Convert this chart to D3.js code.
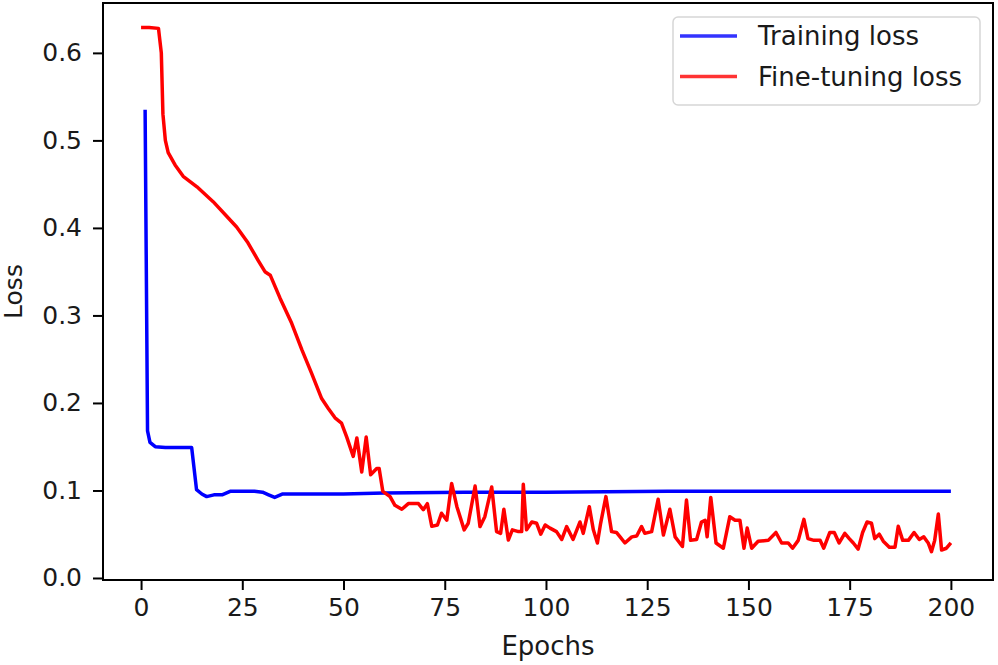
<!DOCTYPE html>
<html>
<head>
<meta charset="utf-8">
<script src="https://cdn.jsdelivr.net/npm/d3@7"></script>
<style>
  body { margin: 0; background: #fff; }
  svg { display: block; font-family: "DejaVu Sans", sans-serif; }
</style>
</head>
<body>
<svg id="chart" width="998" height="665"></svg>
<script>
// training loss (blue)
const trainEpochs = [1, 1.6, 2.2, 3.5, 6, 9, 12.5, 13.7, 15, 16.2, 18, 20, 22, 25, 28, 30, 31.5, 33, 35, 40, 50, 60, 80, 100, 130, 160, 200]
const trainLoss = [0.535, 0.168, 0.155, 0.150, 0.149, 0.149, 0.149, 0.101, 0.096, 0.093, 0.095, 0.095, 0.099, 0.099, 0.099, 0.098, 0.095, 0.092, 0.096, 0.096, 0.096, 0.097, 0.098, 0.098, 0.099, 0.099, 0.099]

// fine-tuning loss (red)
const tuneEpochs = [0, 2, 4.3, 5.0, 5.4, 6.0, 6.7, 8.4, 10.4, 13.8, 17.8, 21.2, 23.6, 26.4, 28.9, 30.6, 31.9, 34.3, 37.2, 39.7, 42.1, 44.6, 46.2, 47.9, 49.5, 50.8, 52.4,
  53.3, 54.5, 55.6, 56.7, 58.2, 58.8, 59.7, 61.5, 62.7, 64.4, 66, 68.5, 69.7, 70.7, 71.8, 73.2, 74.2, 75.5, 76.7, 78, 79.8, 80.8, 82.5, 83.7, 84.9, 86.6,
  87.8, 88.8, 89.6, 90.7, 91.7, 93.2, 94, 94.4, 95.2, 96.5, 97.7, 98.7, 99.8, 101, 102.6, 103.9, 105.1, 106.7, 108.4, 109.2, 110.7, 111.7, 112.7, 113.5,
  114.8, 116.2, 117.4, 118.3, 119.5, 121.2, 122.4, 123.6, 124.4, 126.1, 127.7, 129, 130.6, 131.9, 133.7, 134.7, 135.7, 137.2, 138.4, 139.3, 139.8, 140.7,
  142, 143.8, 145.4, 146.7, 147.9, 148.9, 149.7, 150.8, 152.4, 154.9, 156.8, 158.2, 159.8, 160.9, 162.3, 163.7, 164.7, 166.2, 167.7, 168.6, 170.1, 171.2,
  172.4, 173.8, 174.9, 175.9, 177.1, 178.2, 179.3, 180.4, 181.2, 182.3, 183.3, 184.8, 186.2, 187, 188.1, 189.5, 190.9, 192.2, 193.3, 194.4, 195.2, 196,
  196.9, 197.7, 198.9, 200]
const tuneLoss = [0.629, 0.629, 0.628, 0.60, 0.53, 0.50, 0.486, 0.472, 0.459, 0.447, 0.430, 0.413, 0.401, 0.383, 0.363, 0.350, 0.346, 0.320, 0.291, 0.261, 0.234, 0.205, 0.194, 0.183, 0.177, 0.161, 0.139,
  0.160, 0.121, 0.161, 0.118, 0.125, 0.125, 0.099, 0.093, 0.083, 0.0785, 0.085, 0.085, 0.078, 0.085, 0.059, 0.0606, 0.074, 0.066, 0.108, 0.0815, 0.055, 0.0625, 0.105, 0.0587, 0.070, 0.104,
  0.053, 0.051, 0.0785, 0.0434, 0.055, 0.053, 0.053, 0.107, 0.055, 0.064, 0.0625, 0.050, 0.0606, 0.057, 0.053, 0.044, 0.0587, 0.044, 0.064, 0.051, 0.0815, 0.055, 0.040, 0.0625,
  0.093, 0.053, 0.052, 0.047, 0.040, 0.047, 0.048, 0.0587, 0.051, 0.053, 0.090, 0.049, 0.0785, 0.047, 0.036, 0.089, 0.043, 0.044, 0.064, 0.066, 0.047, 0.092,
  0.040, 0.034, 0.070, 0.066, 0.066, 0.034, 0.057, 0.034, 0.042, 0.043, 0.052, 0.040, 0.040, 0.034, 0.043, 0.067, 0.045, 0.043, 0.043, 0.034, 0.052, 0.052,
  0.040, 0.051, 0.045, 0.040, 0.033, 0.052, 0.064, 0.0625, 0.045, 0.050, 0.042, 0.035, 0.035, 0.059, 0.043, 0.043, 0.052, 0.044, 0.047, 0.040, 0.030, 0.043,
  0.073, 0.032, 0.034, 0.040]

const xTicks = [0, 25, 50, 75, 100, 125, 150, 175, 200]
const yTicks = [0.0, 0.1, 0.2, 0.3, 0.4, 0.5, 0.6]

const seriesNames = ["Training loss", "Fine-tuning loss"]
const seriesColors = ["#0000ff", "#ff0000"]

const svg = d3.select('#chart')
const plotLeft = 103, plotRight = 993, plotTop = 3, plotBottom = 580

const x = d3.scaleLinear().domain([-9.4, 210.4]).range([plotLeft, plotRight])
const y = d3.scaleLinear().domain([-0.0023, 0.657]).range([plotBottom, plotTop])

const line = d3.line()
  .x(d => x(d[0]))
  .y(d => y(d[1]))

const series = [
  d3.zip(trainEpochs, trainLoss),
  d3.zip(tuneEpochs, tuneLoss)
]

series.forEach((pts, i) => {
  svg.append('path')
    .datum(pts)
    .attr('fill', 'none')
    .attr('stroke', seriesColors[i])
    .attr('stroke-width', 3.5)
    .attr('stroke-linejoin', 'round')
    .attr('d', line)
})

// axes
const xAxis = svg.append('g')
  .attr('transform', `translate(0,${plotBottom})`)
  .call(d3.axisBottom(x).tickValues(xTicks).tickFormat(d3.format('d')).tickSize(10).tickPadding(8))

const yAxis = svg.append('g')
  .attr('transform', `translate(${plotLeft},0)`)
  .call(d3.axisLeft(y).tickValues(yTicks).tickFormat(d3.format('.1f')).tickSize(10).tickPadding(11))

;[xAxis, yAxis].forEach(g => {
  g.select('.domain').remove()
  g.selectAll('.tick line').attr('stroke', '#000').attr('stroke-width', 2)
  g.selectAll('.tick text')
    .attr('fill', '#1a1a1a')
    .style('font-size', '25px')
    .style('font-family', '"DejaVu Sans", sans-serif')
})

// frame
svg.append('rect')
  .attr('x', plotLeft).attr('y', plotTop)
  .attr('width', plotRight - plotLeft).attr('height', plotBottom - plotTop)
  .attr('fill', 'none')
  .attr('stroke', '#000')
  .attr('stroke-width', 2)

svg.append('text')
  .attr('x', (plotLeft + plotRight) / 2)
  .attr('y', 655)
  .attr('text-anchor', 'middle')
  .attr('fill', '#1a1a1a')
  .style('font-size', '26px')
  .text('Epochs')

svg.append('text')
  .attr('transform', `translate(22,${(plotTop + plotBottom) / 2}) rotate(-90)`)
  .attr('text-anchor', 'middle')
  .attr('fill', '#1a1a1a')
  .style('font-size', '25px')
  .text('Loss')

// legend
const legend = svg.append('g')
legend.append('rect')
  .attr('x', 673).attr('y', 17)
  .attr('width', 307).attr('height', 88)
  .attr('rx', 5)
  .attr('fill', '#fff')
  .attr('fill-opacity', 0.8)
  .attr('stroke', '#d6d6d6')
  .attr('stroke-width', 1.5)

seriesNames.forEach((name, i) => {
  const ly = 36 + i * 40.5
  legend.append('line')
    .attr('x1', 680).attr('x2', 737)
    .attr('y1', ly).attr('y2', ly)
    .attr('stroke', seriesColors[i])
    .attr('stroke-opacity', 0.8)
    .attr('stroke-width', 3.5)
  legend.append('text')
    .attr('x', 758)
    .attr('y', ly + 9)
    .attr('fill', '#1a1a1a')
    .style('font-size', '26px')
    .text(name)
})
</script>
</body>
</html>
